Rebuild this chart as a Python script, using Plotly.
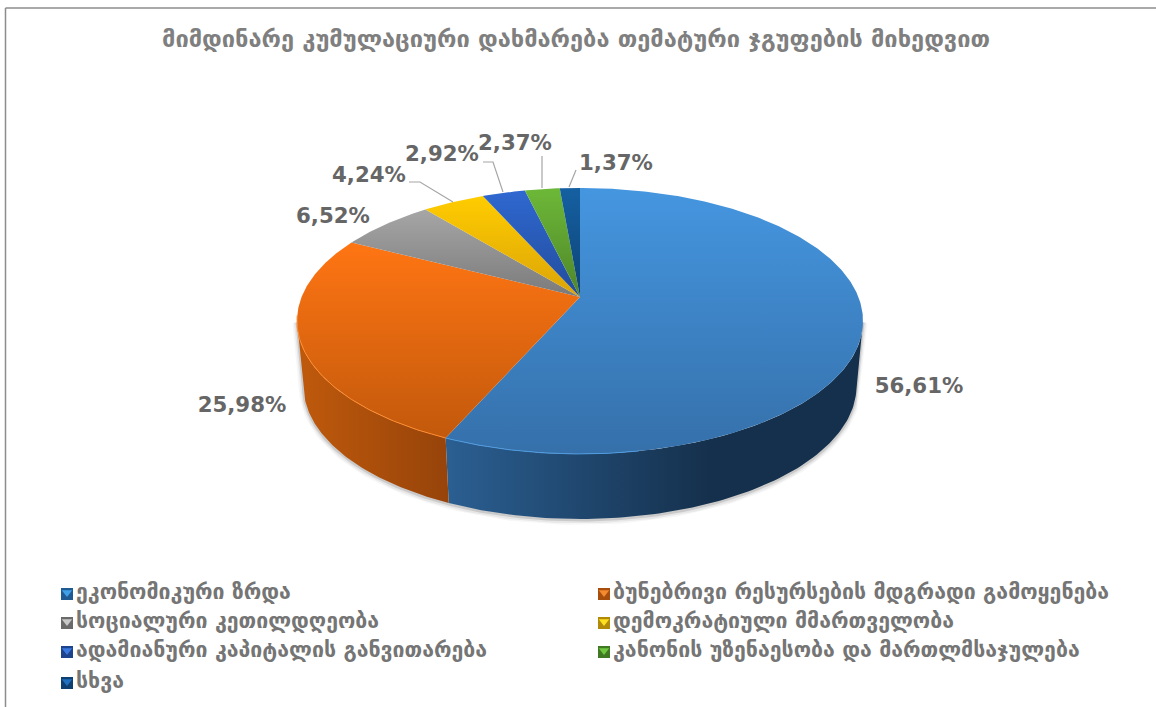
import numpy as np
import plotly.graph_objects as go

# ---------- data ----------
categories = [
    "ეკონომიკური ზრდა",
    "ბუნებრივი რესურსების მდგრადი გამოყენება",
    "სოციალური კეთილდღეობა",
    "დემოკრატიული მმართველობა",
    "ადამიანური კაპიტალის განვითარება",
    "კანონის უზენაესობა და მართლმსაჯულება",
    "სხვა",
]
values = [56.61, 25.98, 6.52, 4.24, 2.92, 2.37, 1.37]
title_text = "მიმდინარე კუმულაციური დახმარება თემატური ჯგუფების მიხედვით"

# ---------- styles ----------
top_light = ["#4596E0", "#FF7513", "#A6A6A6", "#FFCC00", "#2F68D0", "#6DB838", "#1560A2"]
top_dark = ["#3570AA", "#C2590C", "#7A7A7A", "#DBA408", "#224C9C", "#4F8629", "#0E4375"]
rim = ["#4F9BE0", "#FF8C30", None, None, None, None, None]
side_left = ["#2B5F92", "#BE590C"]
side_right = ["#15304C", "#96430A"]
side_range = [(446, 710), (303, 450)]
swatch_light = ["#3FA0E8", "#F58A30", "#C8C8C8", "#FFE020", "#3A78E0", "#70C840", "#2070C0"]
swatch_dark = ["#1F5A92", "#A84E0C", "#6A6A6A", "#B08A08", "#1C438C", "#3F7A22", "#0E3F70"]
label_pos = [(919, 388), (242, 407), (333, 218), (369, 177), (442, 156), (515, 145), (616, 165)]
leaders = [
    ([409, 420, 453], [182, 182, 202]),
    ([483, 493, 503], [162, 162, 192]),
    ([542, 542], [156, 188]),
    ([576, 569], [170, 187]),
]
legend_col = [67, 604]
legend_row = [594, 623, 652, 683]

# ---------- projection ----------
CX, CY, K, A, B = 580.0, 297.0, 0.18, 128.7, 278.4
DEPTH, SHRINK = 65.0, 0.977
EDGE_R, EDGE_L = 100.4, 259.6  # angles where the outline is widest


def project(theta_deg, r=1.0, lower=False):
    t = np.radians(theta_deg)
    X, Y = r * np.sin(t), r * np.cos(t)
    w = 1 + K * Y
    sx, sy = CX + B * X / w, CY - A * Y / w
    if lower:
        sx, sy = CX + SHRINK * (sx - CX), sy + DEPTH
    return sx, sy


total = sum(values)
edges = np.concatenate([[0], np.cumsum(values)]) / total * 360

fig = go.Figure()


def add_path(xs, ys, **kw):
    fig.add_trace(go.Scatter(x=list(xs), y=list(ys), hoverinfo="skip", showlegend=False, **kw))


# soft shadow around the body
arc = np.linspace(EDGE_R, EDGE_L, 160)
sx, sy = project(arc, lower=True)
tr = project(EDGE_R)
tl = project(EDGE_L)
shx = np.concatenate([[tr[0]], sx, [tl[0]]])
shy = np.concatenate([[tr[1]], sy, [tl[1]]])
for width, alpha, off in [(9, 0.05, 1.5), (6, 0.08, 1.5), (3, 0.18, 1)]:
    add_path(shx, shy + off, mode="lines", line=dict(color=f"rgba(70,70,70,{alpha})", width=width))

# side walls
for i, (a0, a1) in enumerate([(EDGE_R, edges[1]), (edges[1], EDGE_L)]):
    arc = np.linspace(a0, a1, 100)
    tx, ty = project(arc)
    bx, by = project(arc, lower=True)
    x0, x1 = side_range[i]
    add_path(
        np.concatenate([tx, bx[::-1], tx[:1]]),
        np.concatenate([ty, by[::-1], ty[:1]]),
        mode="lines", line=dict(width=0), fill="toself",
        fillgradient=dict(type="horizontal", start=x0, stop=x1,
                          colorscale=[[0, side_left[i]], [1, side_right[i]]]),
    )

# top slices
for i, name in enumerate(categories):
    arc = np.linspace(edges[i], edges[i + 1], max(8, int(values[i] * 6)))
    ax, ay = project(arc)
    px = np.concatenate([[CX], ax, [CX]])
    py = np.concatenate([[CY], ay, [CY]])
    fig.add_trace(go.Scatter(
        x=px, y=py, mode="lines", line=dict(width=0), fill="toself", name=name,
        hoverinfo="skip", showlegend=False,
        fillgradient=dict(type="vertical", start=float(py.min()), stop=float(py.max()),
                          colorscale=[[0, top_light[i]], [1, top_dark[i]]]),
    ))
    if rim[i]:
        fa = np.linspace(max(edges[i], 170), min(edges[i + 1], 262), 80)
        rx, ry = project(fa)
        add_path(rx, ry, mode="lines", line=dict(color=rim[i], width=1))

# leader lines
for lx, ly in leaders:
    add_path(lx, ly, mode="lines", line=dict(color="#A6A6A6", width=1.2))

# value labels
fig.add_trace(go.Scatter(
    x=[p[0] for p in label_pos], y=[p[1] for p in label_pos], mode="text",
    text=[f"{v:.2f}%".replace(".", ",") for v in values],
    textfont=dict(family="DejaVu Sans", size=21.3, color="#666666", weight="bold"),
    textposition="middle center", hoverinfo="skip", showlegend=False,
))

# legend (two columns, filled row by row)
lx = [legend_col[i % 2] for i in range(len(categories))]
ly = [legend_row[i // 2] for i in range(len(categories))]
fig.add_trace(go.Scatter(
    x=lx, y=ly, mode="markers", hoverinfo="skip", showlegend=False,
    marker=dict(symbol="square", size=12, color=swatch_dark, line=dict(width=0)),
))
fig.add_trace(go.Scatter(
    x=lx, y=[v - 1.5 for v in ly], mode="markers", hoverinfo="skip", showlegend=False,
    marker=dict(symbol="triangle-down", size=9, color=swatch_light, line=dict(width=0)),
))
fig.add_trace(go.Scatter(
    x=[v + 9 for v in lx], y=ly, mode="text", text=categories, textposition="middle right",
    textfont=dict(family="DejaVu Sans", size=21.3, color="#757575", weight="bold"),
    hoverinfo="skip", showlegend=False,
))

fig.update_layout(
    width=1156, height=707, margin=dict(l=0, r=0, t=0, b=0),
    paper_bgcolor="white", plot_bgcolor="white", showlegend=False,
    title=dict(text=title_text, x=576 / 1156, y=1 - 39 / 707, xanchor="center", yanchor="middle",
               font=dict(family="DejaVu Sans", size=23.6, color="#7F7F7F", weight="bold")),
    xaxis=dict(range=[0, 1156], visible=False, fixedrange=True),
    yaxis=dict(range=[707, 0], visible=False, fixedrange=True),
    shapes=[
        dict(type="line", xref="x", yref="y", x0=5.5, y0=8, x1=1156, y1=8, line=dict(color="#8C8C8C", width=1.5)),
        dict(type="line", xref="x", yref="y", x0=5.5, y0=8, x1=5.5, y1=707, line=dict(color="#8C8C8C", width=1.5)),
    ],
)
fig.write_html("out.html", config={"displayModeBar": False},
               post_script="document.body.style.margin='0';document.documentElement.style.overflow='hidden';")
